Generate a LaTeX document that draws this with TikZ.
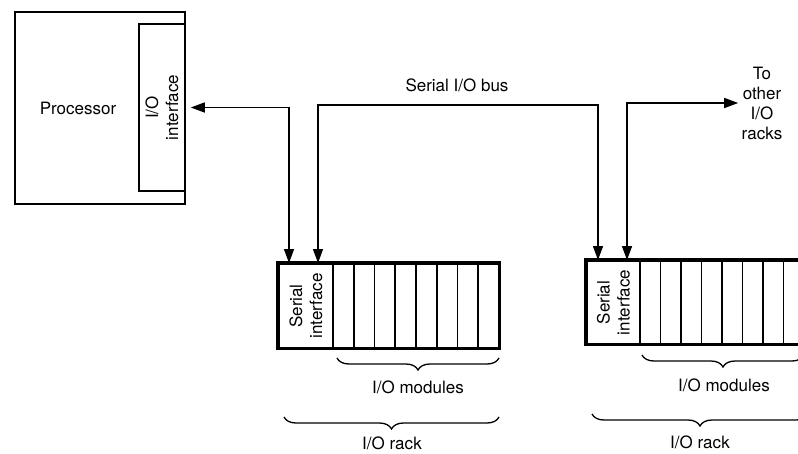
\documentclass[tikz,border=0pt]{standalone}
\usepackage{fontspec}
\setmainfont{TeX Gyre Heros}
\usetikzlibrary{arrows.meta, decorations.pathreplacing}

\begin{document}
\begin{tikzpicture}[x=1pt, y=-1pt, >={Triangle[length=14pt, width=10pt]},
    every node/.style={font=\fontsize{17}{20}\selectfont},
    box/.style={draw, line width=2.8pt, inner sep=0pt},
    slot/.style={draw, line width=1.6pt, inner sep=0pt},
    bus/.style={<->, line width=1.5pt},
    brc/.style={decorate, decoration={brace, mirror, amplitude=12pt}, line width=1.3pt}]
    \useasboundingbox (0,0) rectangle (798,453);
    \clip (0,0) rectangle (798,453);

    % Processor with its I/O interface
    \node[box, minimum width=170pt, minimum height=192pt] (proc) at (100,108) {};
    \node (proclbl) at (78,108) {Processor};
    \node[slot, minimum width=46pt, minimum height=167pt] (iface) at (162,107.5) {};
    \node[rotate=90, align=center] (ifacelbl) at (iface.center) {I/O\\interface};

    % I/O rack A
    \node[box, minimum width=54pt, minimum height=84pt] (sA) at (306,306) {};
    \node[rotate=90, align=center] (sAlbl) at (sA.center) {Serial\\interface};
    \foreach \i in {1,...,8}
      \node[slot, minimum width=20.75pt, minimum height=84pt] (mA-\i) at ({333+20.75*(\i-0.5)},306) {};
    \draw[line width=2.8pt] (sA.north west) rectangle (mA-8.south east);

    % I/O rack B (runs off the right edge)
    \node[box, minimum width=53pt, minimum height=83pt] (sB) at (613.5,302.5) {};
    \node[rotate=90, align=center] (sBlbl) at (sB.center) {Serial\\interface};
    \foreach \i in {1,...,8}
      \node[slot, minimum width=20.5pt, minimum height=83pt] (mB-\i) at ({640+20.5*(\i-0.5)},302.5) {};
    \draw[line width=2.8pt] (sB.north west) rectangle (mB-8.south east);

    % Ends of the bus on the racks
    \coordinate (a1) at (289,263);
    \coordinate (a2) at (318,263);
    \coordinate (b1) at (598,260);
    \coordinate (b2) at (627,260);
    \coordinate (lvl) at (0,105);

    % Serial I/O bus
    \node (buslbl) at (457,85) {Serial I/O bus};
    \node[align=center] (other) at (762,103) {To\\other\\I/O\\racks};
    \draw[bus, shorten <=5pt] (iface.east) -| (a1);
    \draw[bus] (a2) |- (b1 |- lvl) -- (b1);
    \draw[bus] (b2) |- (other.west);

    % Braces
    \draw[brc] (337,358) -- (499,358);
    \node (modA) at (418,387) {I/O modules};
    \draw[brc] (284,417) -- (499,417);
    \node (rackA) at (392,443) {I/O rack};
    \draw[brc] (642,355) -- (804,355);
    \node (modB) at (724,385) {I/O modules};
    \draw[brc] (592,414) -- (808,414);
    \node (rackB) at (700,442) {I/O rack};
\end{tikzpicture}
\end{document}
